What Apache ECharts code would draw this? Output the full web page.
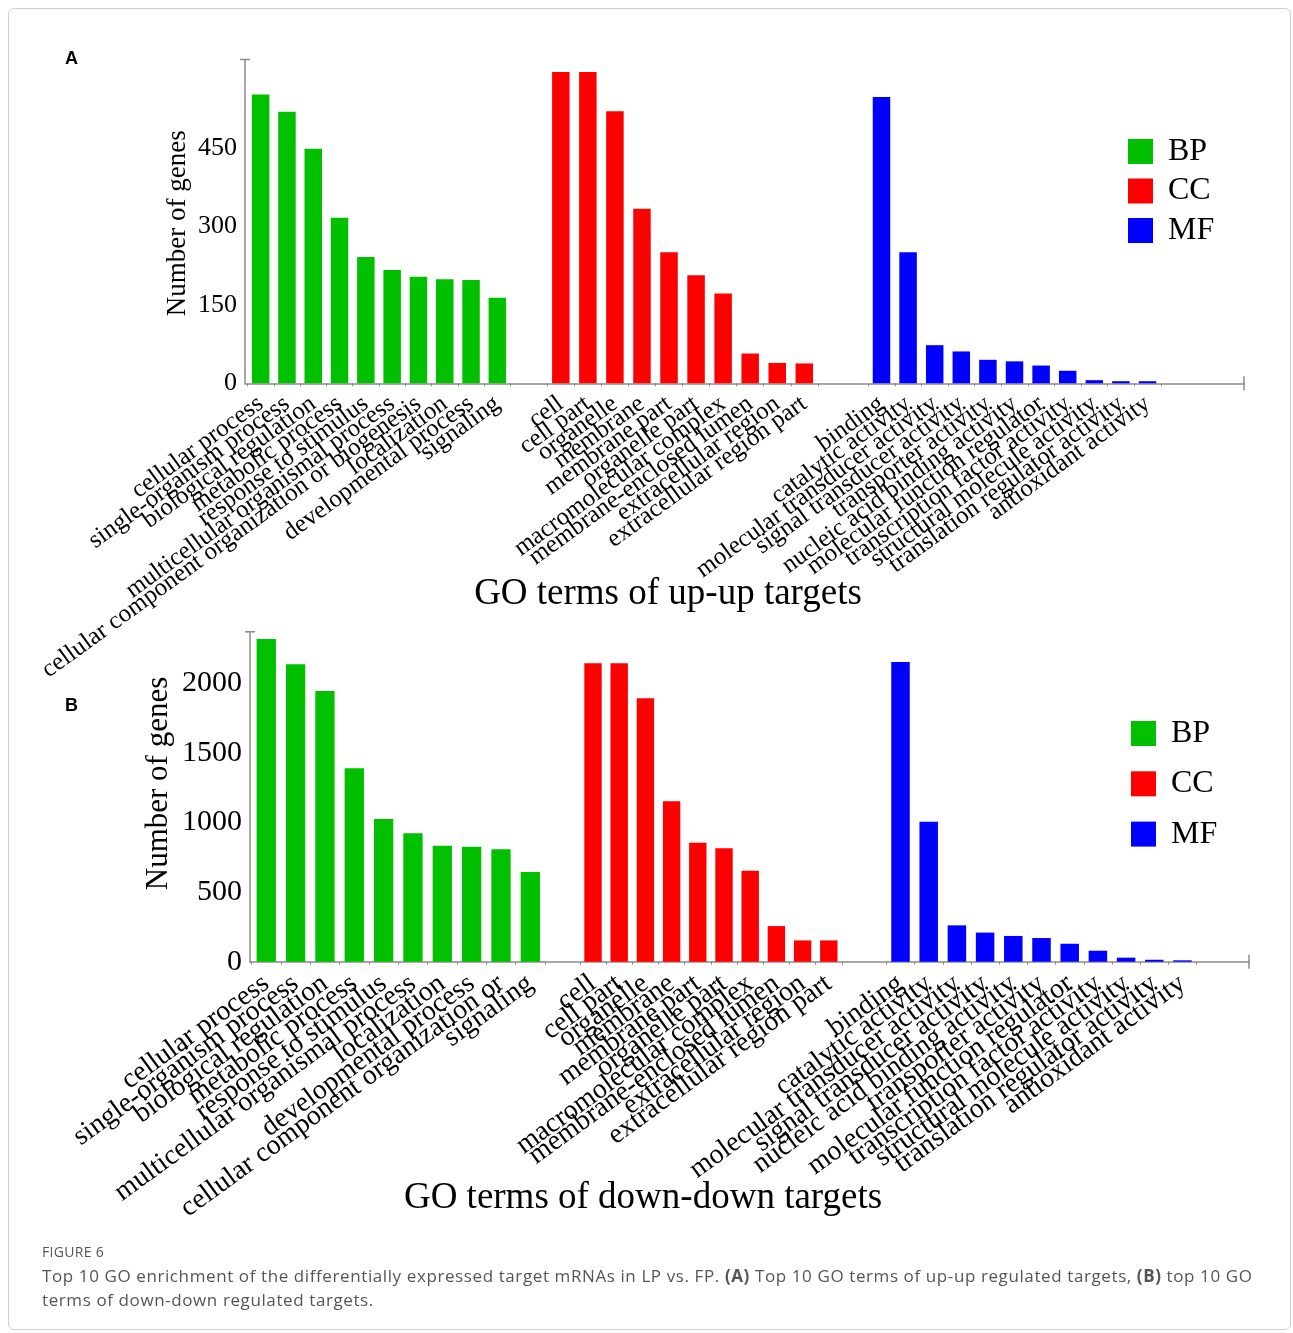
<!DOCTYPE html>
<html>
<head>
<meta charset="utf-8">
<script src="https://cdn.jsdelivr.net/npm/echarts/dist/echarts.min.js"></script>
<style>
html,body{margin:0;padding:0;background:#fff;}
#wrap{position:relative;width:1293px;height:1333px;overflow:hidden;}
#chart{position:absolute;left:0;top:0;width:1293px;height:1333px;}
#frame{position:absolute;left:8px;top:8px;width:1281px;height:1320px;border:1px solid #cfcfcf;border-radius:6px;pointer-events:none;}
.cap{position:absolute;left:42px;font-family:'Open Sans',sans-serif;color:#555;white-space:nowrap;}
</style>
</head>
<body>
<div id="wrap">
  <div id="chart"></div>
  <div id="frame"></div>
  <div class="cap" style="top:1243px;font-size:14px;line-height:18px;letter-spacing:0.3px;">FIGURE 6</div>
  <div class="cap" style="top:1264px;font-size:17px;line-height:24px;letter-spacing:0.6px;">Top 10 GO enrichment of the differentially expressed target mRNAs in LP vs. FP. <b>(A)</b> Top 10 GO terms of up-up regulated targets, <b>(B)</b> top 10 GO<br>terms of down-down regulated targets.</div>
</div>
<script>
// ---------- DATA ----------
// Panel A: up-up targets
const bpCatsA = ['cellular process','single-organism process','biological regulation','metabolic process','response to stimulus','multicellular organismal process','cellular component organization or biogenesis','localization','developmental process','signaling'];
const bpValsA = [553, 520, 449, 317, 242, 217, 204, 199, 198, 164];
const ccCatsA = ['cell','cell part','organelle','membrane','membrane part','organelle part','macromolecular complex','membrane-enclosed lumen','extracellular region','extracellular region part'];
const ccValsA = [596, 596, 521, 334, 251, 207, 172, 57, 39, 38];
const mfCatsA = ['binding','catalytic activity','molecular transducer activity','signal transducer activity','transporter activity','nucleic acid binding activity','molecular function regulator','transcription factor activity','structural molecule activity','translation regulator activity','antioxidant activity'];
const mfValsA = [548, 251, 73, 61, 45, 42, 34, 24, 6, 4, 4];
const yTicksA = [0, 150, 300, 450];

// Panel B: down-down targets
const bpCatsB = ['cellular process','single-organism process','biological regulation','metabolic process','response to stimulus','multicellular organismal process','localization','developmental process','cellular component organization or','signaling'];
const bpValsB = [2318, 2136, 1945, 1389, 1025, 922, 833, 826, 807, 644];
const ccCatsB = ['cell','cell part','organelle','membrane','membrane part','organelle part','macromolecular complex','membrane-enclosed lumen','extracellular region','extracellular region part'];
const ccValsB = [2144, 2144, 1892, 1152, 855, 815, 654, 256, 153, 153];
const mfCatsB = ['binding','catalytic activity','molecular transducer activity','signal transducer activity','nucleic acid binding activity','transporter activity','molecular function regulator','transcription factor activity','structural molecule activity','translation regulator activity','antioxidant activity'];
const mfValsB = [2153, 1006, 261, 209, 185, 170, 129, 79, 29, 14, 10];
const yTicksB = [0, 500, 1000, 1500, 2000];

const groupNames = ['BP', 'CC', 'MF'];
const colors = {BP: '#00C000', CC: '#FF0000', MF: '#0000FF'};

// ---------- LAYOUT ----------
const SERIF = '"Liberation Serif", "Times New Roman", serif';
const AXIS_COLOR = '#8a8a8a';

const panels = [
  {
    frame: {left: 245, top: 59.5, width: 999, height: 323.8},
    yMax: 620, yInterval: 150, yTicks: yTicksA, xOffset: 3, tickFont: 26, labelFont: 25, labelMargin: 15,
    groups: [
      {name: 'BP', cats: bpCatsA, vals: bpValsA, left: 247.5, width: 263, barWidth: 17.5},
      {name: 'CC', cats: ccCatsA, vals: ccValsA, left: 547.3, width: 270.5, barWidth: 17.5},
      {name: 'MF', cats: mfCatsA, vals: mfValsA, left: 868.2, width: 292.6, barWidth: 17.5}
    ]
  },
  {
    frame: {left: 250, top: 631.8, width: 999, height: 329.9},
    yMax: 2370, yInterval: 500, yTicks: yTicksB, xOffset: 5, tickFont: 30, labelFont: 28, labelMargin: 14,
    groups: [
      {name: 'BP', cats: bpCatsB, vals: bpValsB, left: 251.6, width: 293.4, barWidth: 19.3},
      {name: 'CC', cats: ccCatsB, vals: ccValsB, left: 579.9, width: 262, barWidth: 17.4},
      {name: 'MF', cats: mfCatsB, vals: mfValsB, left: 886.4, width: 310.2, barWidth: 18.5}
    ]
  }
];

const grid = [], xAxis = [], yAxis = [], series = [];
panels.forEach(function (p) {
  const fi = grid.length;
  grid.push(Object.assign({outerBoundsMode: 'none', containLabel: false}, p.frame));
  xAxis.push({
    gridIndex: fi, type: 'value', min: 0, max: 1, offset: p.xOffset,
    axisLine: {show: true, lineStyle: {color: AXIS_COLOR, width: 1.5}, symbol: ['none', 'rect'], symbolSize: [14, 1.5]},
    axisTick: {show: false}, axisLabel: {show: false}, splitLine: {show: false}
  });
  const maxShown = p.yTicks[p.yTicks.length - 1];
  yAxis.push({
    gridIndex: fi, type: 'value', min: 0, max: p.yMax, interval: p.yInterval,
    axisLine: {show: true, lineStyle: {color: AXIS_COLOR, width: 1.5}, symbol: ['none', 'rect'], symbolSize: [10, 1.5]},
    axisTick: {show: false}, splitLine: {show: false},
    axisLabel: {
      show: true, margin: 8, color: '#000', fontFamily: SERIF, fontSize: p.tickFont,
      showMaxLabel: false,
      formatter: function (v) { return p.yTicks.indexOf(v) >= 0 && v <= maxShown ? String(v) : ''; }
    }
  });
  p.groups.forEach(function (g) {
    const gi = grid.length;
    grid.push({left: g.left, width: g.width, top: p.frame.top, height: p.frame.height, outerBoundsMode: 'none', containLabel: false});
    xAxis.push({
      gridIndex: gi, type: 'category', data: g.cats, offset: p.xOffset,
      axisLine: {show: false},
      axisTick: {show: true, length: 3, lineStyle: {color: AXIS_COLOR, width: 1}},
      axisLabel: {
        show: true, interval: 0, rotate: 36, margin: p.labelMargin, hideOverlap: false,
        color: '#000', fontFamily: SERIF, fontSize: p.labelFont
      },
      splitLine: {show: false}
    });
    yAxis.push({gridIndex: gi, type: 'value', min: 0, max: p.yMax, show: false, splitLine: {show: false}});
    series.push({
      name: g.name, type: 'bar', xAxisIndex: gi, yAxisIndex: gi,
      data: g.vals, barWidth: g.barWidth,
      itemStyle: {color: colors[g.name]},
      emphasis: {disabled: true}, animation: false
    });
  });
});

const legendText = {fontFamily: SERIF, fontSize: 32, color: '#000', lineHeight: 25, padding: [0, 0, 0, 10]};
const legend = [
  {data: groupNames, orient: 'vertical', left: 1128, top: 135.5, itemWidth: 25, itemHeight: 25, itemGap: 7.5, icon: 'rect', padding: 0, selectedMode: false, textStyle: legendText},
  {data: groupNames, orient: 'vertical', left: 1131, top: 717.5, itemWidth: 25, itemHeight: 25, itemGap: 18.3, icon: 'rect', padding: 0, selectedMode: false, textStyle: legendText}
];

const graphic = [
  {type: 'text', x: 65, y: 59, style: {text: 'A', font: 'bold 18px "Liberation Sans", Arial, sans-serif', fill: '#000', verticalAlign: 'middle'}},
  {type: 'text', x: 65, y: 706, style: {text: 'B', font: 'bold 18px "Liberation Sans", Arial, sans-serif', fill: '#000', verticalAlign: 'middle'}},
  {type: 'text', x: 668, y: 594, style: {text: 'GO terms of up-up targets', font: '37px ' + SERIF, fill: '#000', align: 'center', verticalAlign: 'middle'}},
  {type: 'text', x: 643, y: 1198, style: {text: 'GO terms of down-down targets', font: '37px ' + SERIF, fill: '#000', align: 'center', verticalAlign: 'middle'}},
  {type: 'text', x: 177.5, y: 223.3, rotation: Math.PI / 2, style: {text: 'Number of genes', font: '27px ' + SERIF, fill: '#000', align: 'center', verticalAlign: 'middle'}},
  {type: 'text', x: 159, y: 783.5, rotation: Math.PI / 2, style: {text: 'Number of genes', font: '31px ' + SERIF, fill: '#000', align: 'center', verticalAlign: 'middle'}}
];

const chart = echarts.init(document.getElementById('chart'), null, {renderer: 'canvas'});
chart.setOption({
  animation: false,
  backgroundColor: '#fff',
  tooltip: {show: false},
  grid: grid, xAxis: xAxis, yAxis: yAxis, series: series,
  legend: legend, graphic: graphic
});
</script>
</body>
</html>
